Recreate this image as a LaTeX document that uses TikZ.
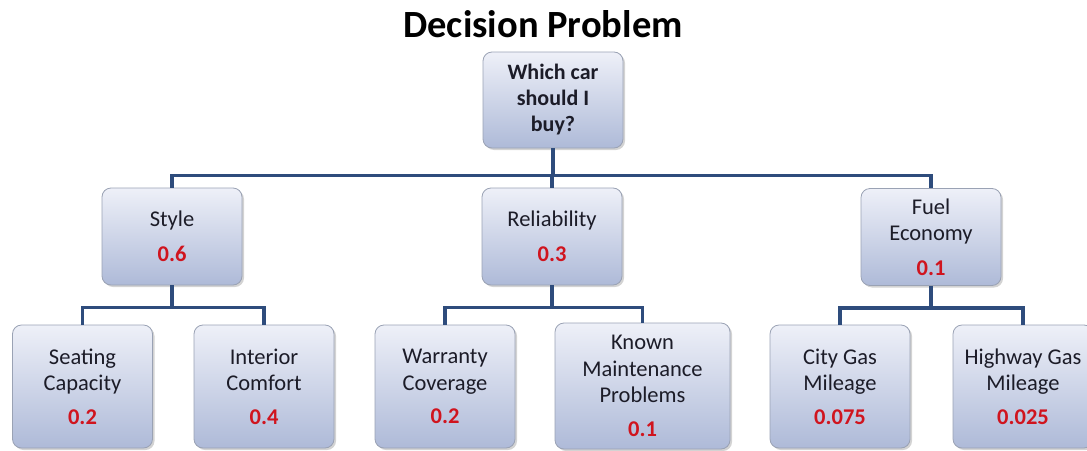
\documentclass[tikz,border=0pt]{standalone}
\usepackage{fontspec}
\setmainfont{Carlito}
\usepackage{xcolor}
\usetikzlibrary{shadows}
\definecolor{boxtop}{HTML}{EEF0F8}
\definecolor{boxbot}{HTML}{AEBAD8}
\definecolor{boxline}{HTML}{9AA2B4}
\definecolor{linkblue}{HTML}{2E4C7C}
\definecolor{valred}{HTML}{D0141E}
\definecolor{txtdark}{HTML}{1C1C28}
\newcommand{\val}[1]{\textbf{\textcolor{valred}{#1}}}

\begin{document}
\begin{tikzpicture}[x=1pt, y=-1pt,
        box/.style={draw=boxline, line width=0.8pt, rounded corners=9pt, top color=boxtop, bottom color=boxbot,
            drop shadow={shadow xshift=2pt, shadow yshift=-2pt, opacity=0.35},
            minimum width=140pt, minimum height=97pt, align=center, text=txtdark,
            font=\fontsize{22.5}{26.5}\selectfont, inner sep=2pt},
        leaf/.style={box, minimum height=123pt},
        link/.style={draw=linkblue, line width=3.6pt}]
        \useasboundingbox (0,0) rectangle (1087,450);

        \node[font=\fontsize{38.5}{42}\selectfont\bfseries] at (543,24) (title) {Decision Problem};

        \node[box, minimum height=96pt, font=\fontsize{22}{26}\selectfont\bfseries] at (553,100) (root) {Which car\\should I\\buy?};

        \node[box] at (172,236.5) (style) {Style\\[9pt]\val{0.6}};
        \node[box] at (552,236.5) (rel) {Reliability\\[9pt]\val{0.3}};
        \node[box] at (931,237) (fuel) {Fuel\\Economy\\[8pt]\val{0.1}};

        \node[leaf] at (82.5,386.5) (seat) {Seating\\Capacity\\[7pt]\val{0.2}};
        \node[leaf] at (264,386.5) (comf) {Interior\\Comfort\\[7pt]\val{0.4}};
        \node[leaf] at (445,386.5) (warr) {Warranty\\Coverage\\[7pt]\val{0.2}};
        \node[leaf, minimum width=175pt, minimum height=126pt] at (642.5,386) (known) {Known\\Maintenance\\Problems\\[7pt]\val{0.1}};
        \node[leaf] at (840,386.5) (city) {City Gas\\Mileage\\[7pt]\val{0.075}};
        \node[leaf] at (1023,386.5) (high) {Highway Gas\\Mileage\\[7pt]\val{0.025}};

        \draw[link] (root.south) -- ++(0,27) -| (style.north);
        \draw[link] (root.south) -- ++(0,27) -| (fuel.north);
        \draw[link] (root.south) -- ++(0,27) -| (rel.north);

        \draw[link] (style.south) -- ++(0,22) -| (seat.north);
        \draw[link] (style.south) -- ++(0,22) -| (comf.north);
        \draw[link] (rel.south) -- ++(0,22) -| (warr.north);
        \draw[link] (rel.south) -- ++(0,22) -| (known.north);
        \draw[link] (fuel.south) -- ++(0,22) -| (city.north);
        \draw[link] (fuel.south) -- ++(0,22) -| (high.north);
    \end{tikzpicture}
\end{document}
